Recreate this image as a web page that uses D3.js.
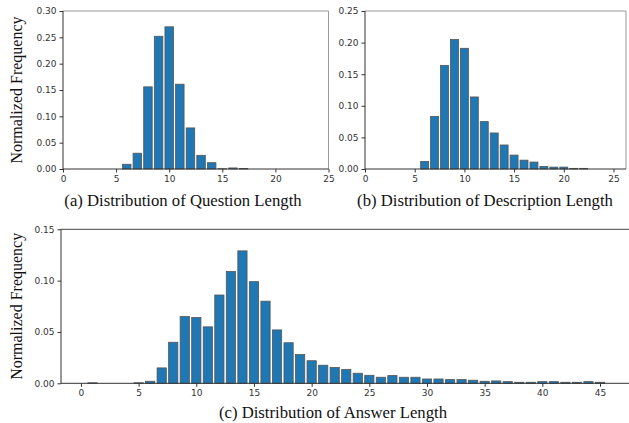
<!DOCTYPE html>
<html>
<head>
<meta charset="utf-8">
<script src="https://cdn.jsdelivr.net/npm/d3@7"></script>
<style>
  body { margin: 0; background: #fff; }
  .tick text { font-family: "DejaVu Sans", sans-serif; font-size: 9px; fill: #333; }
  .tick line { stroke: #333; }
  .lbl { font-family: "Liberation Serif", "Times New Roman", serif; font-size: 16px; fill: #111; }
  .ttl { font-size: 16.7px; }
</style>
</head>
<body>
<svg width="629" height="423"></svg>
<script>
// question length distribution
const qLen  = [6, 7, 8, 9, 10, 11, 12, 13, 14, 15, 16, 17]
const qFreq = [0.009, 0.030, 0.156, 0.252, 0.270, 0.161, 0.078, 0.026, 0.012, 0.0005, 0.002, 0.001]

// description length distribution
const dLen  = [6, 7, 8, 9, 10, 11, 12, 13, 14, 15, 16, 17, 18, 19, 20, 21, 22]
const dFreq = [0.012, 0.083, 0.164, 0.205, 0.191, 0.114, 0.075, 0.057, 0.038, 0.022, 0.014, 0.011, 0.004, 0.003, 0.003, 0.001, 0.001]

// answer length distribution
const aLen  = [1, 5, 6, 7, 8, 9, 10, 11, 12, 13, 14, 15, 16, 17, 18, 19, 20, 21, 22, 23, 24, 25, 26, 27, 28, 29, 30,
               31, 32, 33, 34, 35, 36, 37, 38, 39, 40, 41, 42, 43, 44, 45]
const aFreq = [0.0005, 0.0005, 0.002, 0.015, 0.040, 0.065, 0.064, 0.055, 0.086, 0.109, 0.129, 0.099, 0.080, 0.052, 0.0395, 0.028,
               0.022, 0.0176, 0.0154, 0.0134, 0.0098, 0.0078, 0.0059, 0.0075, 0.0059, 0.0059, 0.0042,
               0.0042, 0.0036, 0.0036, 0.003, 0.002, 0.0023, 0.0016, 0.001, 0.001, 0.0016, 0.0016, 0.001, 0.001, 0.0016, 0.001]

const xTicksA = [0, 5, 10, 15, 20, 25]
const yTicksA = [0, 0.05, 0.10, 0.15, 0.20, 0.25, 0.30]
const xTicksB = [0, 5, 10, 15, 20, 25]
const yTicksB = [0, 0.05, 0.10, 0.15, 0.20, 0.25]
const xTicksC = [0, 5, 10, 15, 20, 25, 30, 35, 40, 45]
const yTicksC = [0, 0.05, 0.10, 0.15]

const svg = d3.select('svg')

function panel(opt) {
  const x = d3.scaleLinear().domain(opt.xdom).range([opt.left, opt.right])
  const y = d3.scaleLinear().domain(opt.ydom).range([opt.bottom, opt.top])
  const g = svg.append('g')

  const bw = 0.8
  g.selectAll('rect.bar')
    .data(opt.xs.map((v, i) => [v, opt.ys[i]]))
    .enter()
    .append('rect')
    .attr('class', 'bar')
    .attr('x', d => x(d[0] - bw / 2))
    .attr('width', d => x(bw) - x(0))
    .attr('y', d => y(d[1]))
    .attr('height', d => y(0) - y(d[1]))
    .style('fill', '#1f77b4')
    .style('stroke', '#555')
    .style('stroke-width', 0.8)

  g.append('g')
    .attr('transform', `translate(0,${opt.bottom})`)
    .call(d3.axisBottom(x).tickValues(opt.xticks).tickFormat(d3.format('d')).tickSize(3.5).tickPadding(3))
    .call(a => a.select('.domain').remove())

  g.append('g')
    .attr('transform', `translate(${opt.left},0)`)
    .call(d3.axisLeft(y).tickValues(opt.yticks).tickFormat(d3.format('.2f')).tickSize(3.5).tickPadding(3))
    .call(a => a.select('.domain').remove())

  // spines
  g.append('line').attr('x1', opt.left).attr('x2', opt.right).attr('y1', opt.top).attr('y2', opt.top)
    .style('stroke', opt.topColor).style('stroke-width', 1)
  if (opt.rightSpine)
    g.append('line').attr('x1', opt.right).attr('x2', opt.right).attr('y1', opt.top).attr('y2', opt.bottom)
      .style('stroke', '#999').style('stroke-width', 1)
  g.append('line').attr('x1', opt.left).attr('x2', opt.left).attr('y1', opt.top).attr('y2', opt.bottom)
    .style('stroke', '#333').style('stroke-width', 1)
  g.append('line').attr('x1', opt.left).attr('x2', opt.right).attr('y1', opt.bottom).attr('y2', opt.bottom)
    .style('stroke', '#333').style('stroke-width', 1)

  if (opt.ylabel)
    g.append('text').attr('class', 'lbl')
      .attr('transform', `translate(${opt.ylabelX},${(opt.top + opt.bottom) / 2}) rotate(-90)`)
      .attr('text-anchor', 'middle').attr('dy', '0.35em')
      .text(opt.ylabel)

  g.append('text').attr('class', 'lbl ttl')
    .attr('x', opt.titleX).attr('y', opt.titleY)
    .attr('text-anchor', 'middle')
    .text(opt.title)
}

panel({
  xs: qLen, ys: qFreq, xdom: [0, 25], ydom: [0, 0.30],
  left: 63, right: 328.5, top: 11, bottom: 169,
  xticks: xTicksA, yticks: yTicksA, topColor: '#999', rightSpine: true,
  ylabel: 'Normalized Frequency', ylabelX: 16,
  title: '(a) Distribution of Question Length', titleX: 183, titleY: 206
})

panel({
  xs: dLen, ys: dFreq, xdom: [0, 26.26], ydom: [0, 0.25],
  left: 365, right: 626, top: 11, bottom: 169,
  xticks: xTicksB, yticks: yTicksB, topColor: '#999', rightSpine: true,
  title: '(b) Distribution of Description Length', titleX: 485, titleY: 206
})

panel({
  xs: aLen, ys: aFreq, xdom: [-1.73, 47.6], ydom: [0, 0.15],
  left: 61, right: 630, top: 229.3, bottom: 383.3,
  xticks: xTicksC, yticks: yTicksC, topColor: '#444', rightSpine: false,
  ylabel: 'Normalized Frequency', ylabelX: 16,
  title: '(c) Distribution of Answer Length', titleX: 333, titleY: 418
})
</script>
</body>
</html>
